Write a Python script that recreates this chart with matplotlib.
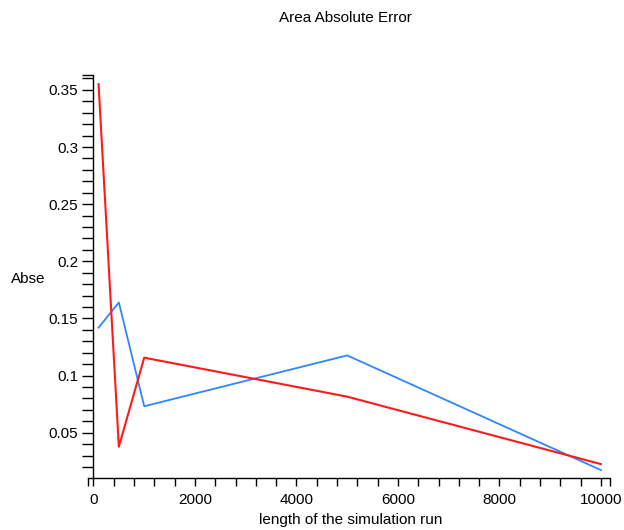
import matplotlib
matplotlib.use("Agg")
import matplotlib.pyplot as plt
from matplotlib.ticker import FixedLocator, FixedFormatter
import numpy as np

plt.rcParams['font.family'] = ['Liberation Sans', 'DejaVu Sans']

run_length = [100, 500, 1000, 5000, 10000]
err_blue = [0.142, 0.164, 0.0732, 0.1177, 0.0174]
err_red = [0.355, 0.0378, 0.1157, 0.0816, 0.0226]

x_major = [0, 2000, 4000, 6000, 8000, 10000]
x_labels = ['0', '2000', '4000', '6000', '8000', '10000']
y_major = [0.05, 0.1, 0.15, 0.2, 0.25, 0.3, 0.35]
y_labels = ['0.05', '0.1', '0.15', '0.2', '0.25', '0.3', '0.35']

W, H = 624, 530
fig = plt.figure(figsize=(W / 100, H / 100), dpi=100)
x0, x1 = 88, 610
y0, y1 = 477.7, 75
ax = fig.add_axes([x0 / W, 1 - y0 / H, (x1 - x0) / W, (y0 - y1) / H])

xlo, xhi = -108, 10180
ylo, yhi = 0.0107, 0.363

ax.plot(run_length, err_blue, color='#2f86ff', lw=1.3)
ax.plot(run_length, err_red, color='#ff1a1a', lw=1.5)

ax.set_xlim(xlo, xhi)
ax.set_ylim(ylo, yhi)

for s in ['top', 'right']:
    ax.spines[s].set_visible(False)
for s in ['left', 'bottom']:
    ax.spines[s].set_linewidth(1.0)
    ax.spines[s].set_color('black')
ax.spines['left'].set_position(('data', 0))

ax.xaxis.set_major_locator(FixedLocator(x_major))
ax.xaxis.set_major_formatter(FixedFormatter(x_labels))
xminor = [v for v in np.arange(400, 10001, 400) if v not in x_major] + [xlo, xhi]
ax.xaxis.set_minor_locator(FixedLocator(xminor))

ax.yaxis.set_major_locator(FixedLocator(y_major))
ax.yaxis.set_major_formatter(FixedFormatter(y_labels))
yminor = [round(v, 3) for v in np.arange(0.02, 0.361, 0.01)
          if not any(abs(v - m) < 1e-6 for m in y_major)] + [yhi]
ax.yaxis.set_minor_locator(FixedLocator(yminor))

ax.tick_params(axis='both', which='both', direction='out', width=1.0, colors='black')
ax.tick_params(axis='x', which='both', length=6, labelsize=11, pad=5)
ax.tick_params(axis='y', which='both', length=8, labelsize=11, pad=3)

fig.text(345 / W, 1 - 18 / H, 'Area Absolute Error', ha='center', va='center', fontsize=11)
fig.text(11 / W, 1 - 279 / H, 'Abse', ha='left', va='center', fontsize=11)
fig.text(351 / W, 1 - 520 / H, 'length of the simulation run', ha='center', va='center', fontsize=11)

fig.savefig('out.png', dpi=100)
